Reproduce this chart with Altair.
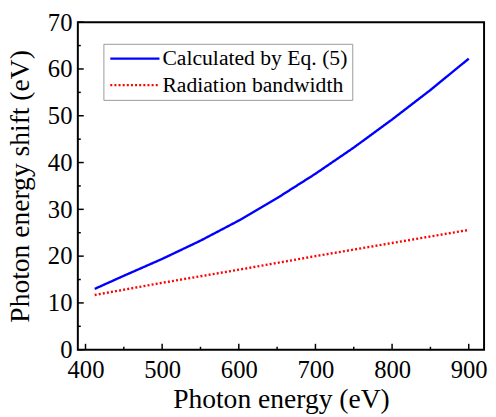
import altair as alt
import pandas as pd

# Data
calc_x = [412, 450, 500, 550, 600, 650, 700, 750, 800, 850, 900]
calc_y = [13.0, 15.8, 19.4, 23.3, 27.6, 32.4, 37.6, 43.2, 49.2, 55.5, 62.2]
bw_x = [412, 500, 600, 700, 800, 900]
bw_y = [11.7, 14.3, 17.1, 20.0, 22.8, 25.6]
series_names = ["Calculated by Eq. (5)", "Radiation bandwidth"]

x_major = [400, 500, 600, 700, 800, 900]
x_minor = [450, 550, 650, 750, 850]
y_major = [0, 10, 20, 30, 40, 50, 60, 70]
y_minor = [5, 15, 25, 35, 45, 55, 65]

W, H = 413, 333
FONT = "Liberation Serif"

df = pd.DataFrame(
    {"x": calc_x + bw_x,
     "y": calc_y + bw_y,
     "s": [series_names[0]] * len(calc_x) + [series_names[1]] * len(bw_x)}
)

xs = alt.Scale(domain=[390, 920], nice=False, zero=False)
ys = alt.Scale(domain=[0, 70], nice=False)

lines = alt.Chart(df).mark_line(strokeWidth=2.4, clip=True).encode(
    x=alt.X("x:Q", scale=xs,
            axis=alt.Axis(title="Photon energy (eV)", values=x_major, format="d",
                          ticks=False, domain=False, grid=False,
                          labelPadding=8, titlePadding=4)),
    y=alt.Y("y:Q", scale=ys,
            axis=alt.Axis(title="Photon energy shift (eV)", values=y_major,
                          ticks=False, domain=False, grid=False,
                          labelPadding=6, titlePadding=13)),
    color=alt.Color("s:N", sort=series_names,
                    scale=alt.Scale(domain=series_names, range=["#0000ff", "#ff0000"]),
                    legend=alt.Legend(title=None, orient="none", legendX=26, legendY=22,
                                      symbolType="M-1.6,0H8.4", symbolSize=100,
                                      symbolStrokeWidth=2.4, labelFont=FONT,
                                      labelFontSize=22, labelLimit=400,
                                      labelColor="black",
                                      strokeColor="#999999", padding=4,
                                      rowPadding=5, labelOffset=34,
                                      fillColor="white")),
    strokeDash=alt.StrokeDash("s:N", sort=series_names,
                              scale=alt.Scale(domain=series_names, range=[[1, 0], [2, 2.2]]),
                              legend=None),
)

def xticks(vals, ln):
    d = pd.DataFrame({"v": vals})
    return alt.Chart(d).mark_rule(color="black", strokeWidth=1.5).encode(
        x=alt.X("v:Q", scale=xs), y=alt.value(H), y2=alt.value(H - ln))

def yticks(vals, ln):
    d = pd.DataFrame({"v": vals})
    return alt.Chart(d).mark_rule(color="black", strokeWidth=1.5).encode(
        y=alt.Y("v:Q", scale=ys), x=alt.value(0), x2=alt.value(ln))

chart = alt.layer(
    xticks(x_major, 6), xticks(x_minor, 3),
    yticks(y_major, 6), yticks(y_minor, 3),
    lines,
).properties(
    width=W, height=H,
    autosize=alt.AutoSizeParams(type="none"),
    padding={"left": 71, "top": 11, "right": 4, "bottom": 65},
).configure_view(
    stroke="black", strokeWidth=2
).configure_axis(
    labelFont=FONT, labelFontSize=25, labelColor="black",
    titleFont=FONT, titleFontSize=28, titleFontWeight="normal", titleColor="black",
)

chart.save("out.html", embed_options={"renderer": "svg", "actions": False})
